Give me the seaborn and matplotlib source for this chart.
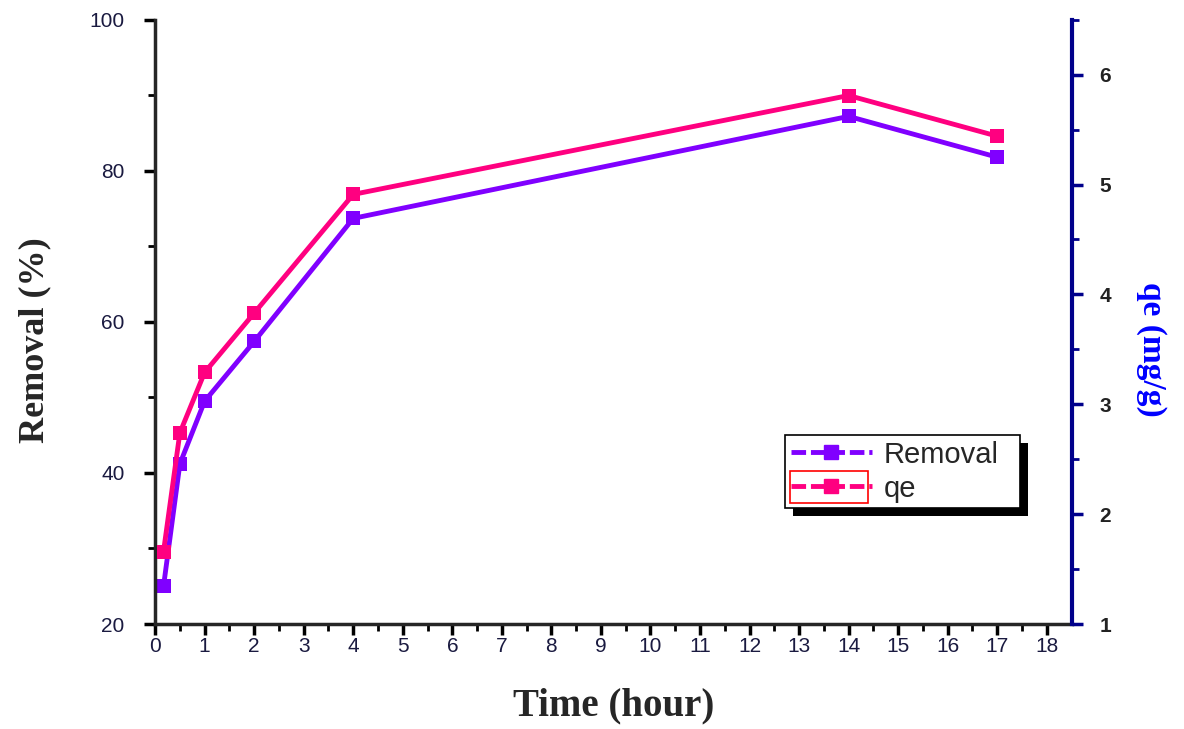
import pandas as pd
import matplotlib.pyplot as plt
import seaborn as sns
from matplotlib.lines import Line2D
from matplotlib.patches import Rectangle

# Data
time_h = [0.17, 0.5, 1, 2, 4, 14, 17]
removal = [25.0, 41.2, 49.5, 57.4, 73.7, 87.2, 81.8]
qe = [1.66, 2.74, 3.29, 3.83, 4.91, 5.81, 5.44]

df = pd.DataFrame({"Time": time_h, "Removal": removal, "qe": qe})

sns.set_style("white")
plt.rcParams["font.family"] = ["Liberation Sans", "DejaVu Sans"]

purple = "#8000FF"
pink = "#FF0080"
navy = "#00008B"

fig = plt.figure(figsize=(11.84, 7.29), dpi=100)
ax = fig.add_axes([0.131, 0.144, 0.774, 0.829])
ax.patch.set_visible(False)
ax2 = ax.twinx()

sns.lineplot(data=df, x="Time", y="Removal", ax=ax, color=purple, marker="s",
             markersize=10, markeredgewidth=0, linewidth=3.5)
sns.lineplot(data=df, x="Time", y="qe", ax=ax2, color=pink, marker="s",
             markersize=10, markeredgewidth=0, linewidth=3.5)

ax.set_xlim(0, 18.5)
ax.set_ylim(20, 100)
ax2.set_ylim(1, 6.5)

ax.set_xticks(range(0, 19))
ax.set_xticks([i + 0.5 for i in range(0, 18)], minor=True)
ax.set_yticks([20, 40, 60, 80, 100])
ax.set_yticks([30, 50, 70, 90], minor=True)
ax2.set_yticks([1, 2, 3, 4, 5, 6])
ax2.set_yticks([1.5, 2.5, 3.5, 4.5, 5.5, 6.5], minor=True)

for a in (ax, ax2):
    a.spines["top"].set_visible(False)
ax.spines["right"].set_visible(False)
ax.spines["left"].set_linewidth(2.5)
ax.spines["bottom"].set_linewidth(2.5)
ax2.spines["left"].set_visible(False)
ax2.spines["bottom"].set_visible(False)
ax2.spines["right"].set_linewidth(3)
ax2.spines["right"].set_color(navy)

ax.tick_params(axis="both", which="major", direction="out", length=8, width=2.5,
               labelsize=15, colors="black", labelcolor="#1a1a40", left=True, bottom=True)
ax.tick_params(axis="y", which="major", pad=14)
ax.tick_params(axis="x", which="major", pad=1)
ax.tick_params(axis="both", which="minor", direction="out", length=5, width=2,
               colors="black", left=True, bottom=True)
ax2.tick_params(axis="y", which="major", direction="out", length=8, width=2.5,
                color=navy, labelsize=15, right=True, pad=12)
ax2.tick_params(axis="y", which="minor", direction="out", length=5, width=2,
                color=navy, right=True)
for lbl in ax2.get_yticklabels():
    lbl.set_fontweight("bold")
    lbl.set_color("#222222")

ax.set_xlabel("Time (hour)", fontsize=28, fontweight="bold",
              family="Liberation Serif", labelpad=23)
ax.set_ylabel("Removal (%)", fontsize=26, fontweight="bold",
              family="Liberation Serif")
ax.yaxis.set_label_coords(-0.113, 0.47)
ax2.set_ylabel("qe (mg/g)", fontsize=24, fontweight="bold", color="#0000FF",
               family="Liberation Serif", rotation=-90, va="center")
ax2.yaxis.set_label_coords(1.087, 0.454)

handles = [
    Line2D([], [], color=purple, marker="s", markersize=10, lw=3.5, linestyle=(0, (3, 1))),
    Line2D([], [], color=pink, marker="s", markersize=10, lw=3.5, linestyle=(0, (3, 1))),
]
leg = ax2.legend(handles, ["Removal", "qe"], loc="upper left",
                 bbox_to_anchor=(0.687, 0.313), frameon=False,
                 fontsize=21, handlelength=2.8, borderpad=0.2, labelspacing=0.2,
                 handletextpad=0.4, borderaxespad=0)

# legend frame with offset black shadow, drawn by hand to match the reference width
fig.canvas.draw()
bb = leg.get_window_extent()
W, H = fig.bbox.width, fig.bbox.height
box_w = 235
fig.add_artist(Rectangle(((bb.x0 + 8) / W, (bb.y0 - 8) / H), box_w / W, bb.height / H,
                         transform=fig.transFigure, facecolor="black",
                         edgecolor="none", zorder=-1))
fig.add_artist(Rectangle((bb.x0 / W, bb.y0 / H), box_w / W, bb.height / H,
                         transform=fig.transFigure, facecolor="white",
                         edgecolor="black", linewidth=1.2, zorder=-0.5))

# selection box around the qe legend handle, as in the reference
fig.add_artist(Rectangle((790 / 1184, 1 - 503 / 729), 78 / 1184, 32 / 729,
                         transform=fig.transFigure, fill=False,
                         edgecolor="red", linewidth=1.2))

plt.savefig("out.png", dpi=100)
